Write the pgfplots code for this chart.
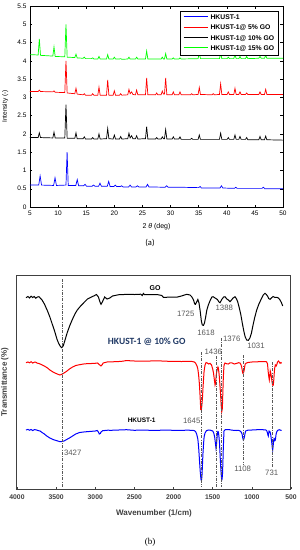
\documentclass[border=0pt]{standalone}
\usepackage{pgfplots}
\pgfplotsset{compat=1.18}
\usepackage{fontspec}
\setmainfont{Liberation Sans}
\newfontfamily\carlito{Carlito}
\newfontfamily\serifb{Liberation Serif}
\definecolor{navy}{HTML}{1F3864}
\definecolor{lblgray}{HTML}{595959}
\definecolor{frgray}{HTML}{404040}
\definecolor{legblue}{rgb}{0,0,1}
\definecolor{legred}{rgb}{1,0,0}
\definecolor{leggreen}{rgb}{0,1,0}
\tikzset{
  vline/.style={lblgray, line width=0.6pt, dash pattern=on 3pt off 1.3pt on 0.8pt off 1.3pt},
  lbl/.style={font=\fontsize{7.8}{9}\selectfont, text=lblgray, inner sep=0pt},
}
\newcommand{\legline}[1]{{\color{#1}\rule[2.1pt]{24pt}{1.1pt}}\hspace{3pt}}
\begin{document}
\begin{tikzpicture}
\useasboundingbox (0pt,-550pt) rectangle (300pt,0pt);
% ---------------- panel (a) ----------------
\begin{axis}[
  at={(30pt,-207pt)}, anchor=south west,
  width=253pt, height=201pt, scale only axis,
  xmin=5, xmax=50, ymin=0, ymax=5.5,
  xtick={5,10,...,50}, ytick={0,0.5,...,5.5},
  tick align=inside, major tick length=2.5pt,
  every tick/.style={black, line width=0.4pt},
  axis line style={line width=0.5pt},
  /pgf/number format/assume math mode=true,
  tick label style={font=\fontsize{6.5}{7}\selectfont},
  xlabel={2 \textit{θ} (deg)},
  ylabel={Intensity (-)},
  xlabel style={font=\fontsize{7}{8}\selectfont, at={(axis description cs:0.5,-0.1)}, anchor=center},
  ylabel style={font=\fontsize{6.5}{7}\selectfont, at={(axis description cs:-0.072,0.5)}, anchor=south},
  legend style={at={(0.98,0.975)}, anchor=north east, font=\fontsize{6.8}{8}\selectfont\bfseries,
     inner sep=1.5pt, row sep=0pt, column sep=0pt},
  legend cell align=left,
  legend image code/.code={},
  every axis plot/.append style={line width=0.7pt},
]
\addplot[blue] coordinates {(5,0.6) (6.55,0.6) (6.8,0.85) (7.05,0.6) (9.2,0.59) (9.45,0.8) (9.7,0.59) (11.4,0.6) (11.6,1.5) (11.8,0.59) (13.15,0.59) (13.4,0.75) (13.65,0.58) (14.55,0.58) (14.8,0.62) (15.05,0.57) (16.05,0.57) (16.3,0.6) (16.55,0.57) (17.2,0.57) (17.45,0.65) (17.7,0.57) (18.75,0.57) (19.0,0.7) (19.25,0.56) (19.9,0.56) (20.15,0.6) (20.4,0.56) (21.05,0.56) (21.3,0.58) (21.55,0.55) (22.55,0.55) (22.8,0.6) (23.05,0.55) (23.85,0.55) (24.1,0.58) (24.35,0.55) (25.65,0.55) (25.9,0.62) (26.15,0.55) (29.05,0.54) (29.3,0.58) (29.55,0.54) (32,0.54) (35,0.53) (35.25,0.56) (35.5,0.52) (38.8,0.52) (39.05,0.58) (39.3,0.52) (41.35,0.51) (41.6,0.54) (41.85,0.51) (46.25,0.51) (46.5,0.54) (46.75,0.5) (50,0.5)};
\addlegendentry{\legline{legblue}HKUST-1}
\addplot[red] coordinates {(5,3.16) (6.45,3.16) (6.66,3.2) (6.87,3.16) (9.06,3.15) (9.27,3.18) (9.48,3.14) (11.19,3.13) (11.4,4.0) (11.61,3.12) (12.97,3.1) (13.18,3.25) (13.39,3.09) (14.45,3.07) (14.66,3.1) (14.87,3.06) (15.94,3.06) (16.15,3.1) (16.36,3.06) (17.06,3.06) (17.27,3.28) (17.48,3.06) (18.61,3.06) (18.82,3.48) (19.03,3.06) (19.79,3.06) (20.0,3.18) (20.21,3.06) (20.92,3.06) (21.13,3.1) (21.34,3.06) (22.39,3.07) (22.6,3.22) (22.81,3.1) (23.08,3.15) (23.3,3.08) (23.76,3.07) (23.97,3.2) (24.18,3.07) (25.54,3.07) (25.75,3.53) (25.96,3.07) (27.32,3.07) (27.53,3.12) (27.74,3.07) (28.32,3.07) (28.53,3.17) (28.74,3.09) (28.92,3.09) (29.13,3.53) (29.34,3.07) (30.28,3.07) (30.49,3.15) (30.7,3.07) (31.47,3.07) (31.68,3.15) (31.89,3.07) (33.55,3.07) (33.76,3.1) (33.97,3.07) (34.9,3.08) (35.11,3.27) (35.32,3.08) (37.39,3.07) (37.6,3.1) (37.81,3.07) (38.7,3.08) (38.91,3.37) (39.12,3.08) (40.06,3.08) (40.27,3.15) (40.48,3.08) (41.25,3.08) (41.46,3.25) (41.67,3.08) (42.14,3.08) (42.35,3.15) (42.56,3.08) (43.33,3.08) (43.54,3.12) (43.75,3.08) (45.7,3.08) (45.91,3.15) (46.12,3.08) (46.71,3.08) (46.92,3.22) (47.13,3.08) (50,3.08)};
\addlegendentry{\legline{legred}HKUST-1@ 5\% GO}
\addplot[black] coordinates {(5,1.9) (6.45,1.9) (6.66,2.03) (6.87,1.9) (9.06,1.89) (9.27,2.05) (9.48,1.89) (11.19,1.89) (11.4,2.8) (11.61,1.88) (12.97,1.88) (13.18,2.03) (13.39,1.87) (14.45,1.87) (14.66,1.92) (14.87,1.86) (15.94,1.86) (16.15,1.9) (16.36,1.86) (17.06,1.86) (17.27,2.0) (17.48,1.86) (18.61,1.87) (18.82,2.15) (19.03,1.87) (19.79,1.86) (20.0,1.97) (20.21,1.86) (20.92,1.86) (21.13,1.93) (21.34,1.86) (22.39,1.87) (22.6,2.02) (22.81,1.89) (23.08,1.95) (23.3,1.87) (23.76,1.87) (23.97,1.95) (24.18,1.86) (25.54,1.87) (25.75,2.2) (25.96,1.86) (27.32,1.86) (27.53,1.9) (27.74,1.86) (28.32,1.86) (28.53,1.92) (28.74,1.87) (28.92,1.87) (29.13,2.12) (29.34,1.86) (30.28,1.86) (30.49,1.92) (30.7,1.86) (31.47,1.86) (31.68,1.92) (31.89,1.85) (33.55,1.85) (33.76,1.88) (33.97,1.85) (34.9,1.85) (35.11,1.97) (35.32,1.85) (38.7,1.85) (38.91,2.02) (39.12,1.85) (40.06,1.85) (40.27,1.9) (40.48,1.85) (41.25,1.85) (41.46,1.97) (41.67,1.85) (42.14,1.85) (42.35,1.93) (42.56,1.85) (43.33,1.85) (43.54,1.9) (43.75,1.84) (45.7,1.84) (45.91,1.93) (46.12,1.84) (46.71,1.84) (46.92,1.94) (47.13,1.84) (50,1.83)};
\addlegendentry{\legline{black}HKUST-1@ 10\% GO}
\addplot[green] coordinates {(5,4.17) (6.45,4.16) (6.66,4.6) (6.87,4.15) (9.06,4.13) (9.27,4.38) (9.48,4.12) (11.19,4.11) (11.4,5.0) (11.61,4.1) (12.97,4.09) (13.18,4.18) (13.39,4.08) (14.45,4.07) (14.66,4.1) (14.87,4.06) (15.94,4.06) (16.15,4.08) (16.36,4.05) (17.06,4.05) (17.27,4.12) (17.48,4.05) (18.61,4.05) (18.82,4.17) (19.03,4.05) (19.79,4.05) (20.0,4.1) (20.21,4.05) (20.92,4.05) (21.13,4.06) (21.34,4.04) (22.39,4.05) (22.6,4.1) (22.81,4.05) (23.76,4.05) (23.97,4.1) (24.18,4.05) (25.54,4.05) (25.75,4.27) (25.96,4.05) (28.32,4.05) (28.53,4.1) (28.74,4.05) (28.92,4.05) (29.13,4.2) (29.34,4.05) (30.28,4.05) (30.49,4.08) (30.7,4.05) (31.47,4.05) (31.68,4.08) (31.89,4.05) (34.9,4.06) (35.11,4.22) (35.32,4.06) (38.7,4.06) (38.91,4.22) (39.12,4.06) (40.06,4.06) (40.27,4.1) (40.48,4.06) (41.25,4.06) (41.46,4.18) (41.67,4.06) (42.14,4.06) (42.35,4.12) (42.56,4.06) (43.33,4.06) (43.54,4.12) (43.75,4.06) (45.7,4.07) (45.91,4.12) (46.12,4.07) (46.71,4.07) (46.92,4.15) (47.13,4.07) (50,4.07)};
\addlegendentry{\legline{leggreen}HKUST-1@ 15\% GO}
\end{axis}
\node[font=\carlito\fontsize{8.5}{10}\selectfont] at (150pt,-243pt) {(a)};
% ---------------- panel (b) ----------------
\begin{axis}[
  at={(17pt,-489pt)}, anchor=south west,
  width=274pt, height=214pt, scale only axis,
  x dir=reverse, xmin=500, xmax=4000, ymin=0, ymax=214,
  xtick={500,1000,...,4000}, ytick=\empty,
  scaled x ticks=false,
  /pgf/number format/1000 sep={},
  /pgf/number format/assume math mode=true,
  xtick pos=bottom, tick align=inside, major tick length=2pt,
  every tick/.style={frgray, line width=0.6pt},
  axis line style={frgray, line width=1pt},
  xticklabel style={font=\fontsize{6.8}{8}\selectfont\bfseries, text=frgray, yshift=-2.5pt},
  xlabel={Wavenumber (1/cm)},
  ylabel={Transmittance (\%)},
  xlabel style={font=\fontsize{8}{9}\selectfont\bfseries, text=frgray, at={(axis description cs:0.5,-0.112)}, anchor=center},
  ylabel style={font=\fontsize{8}{9}\selectfont\bfseries, text=frgray, at={(axis description cs:-0.018,0.5)}, anchor=south},
  every axis plot/.append style={line width=1pt},
]
% GO
\addplot[black] coordinates {(3885,191.3) (3860,192.5) (3840,191) (3820,192.8) (3800,191.5) (3780,192.5) (3760,190.8) (3740,192) (3719,192.3) (3680,189) (3650,185) (3610,178) (3580,172) (3550,165) (3520,158) (3490,150) (3470,146) (3445,142.5) (3429,141.3) (3410,143) (3390,148) (3360,156) (3323,164) (3290,170) (3260,175) (3230,179) (3195,182.3) (3150,186) (3100,190) (3050,192) (3013,193.3) (2985,194.5) (2960,192) (2940,187) (2927,184.7) (2910,187) (2880,192) (2850,190) (2815,191) (2780,193) (2700,194.3) (2600,194.6) (2500,194.5) (2420,194.8) (2400,193.5) (2386,195.5) (2370,194.3) (2300,194.5) (2200,194.3) (2150,193.5) (2131,191.7) (2050,191.8) (1950,192) (1900,193) (1832,194.7) (1790,194) (1768,192.3) (1745,189) (1730,185) (1720,184.7) (1705,187) (1690,189.5) (1675,186) (1660,178) (1645,168) (1633,164) (1618,163.7) (1605,166) (1590,172) (1575,179) (1556,184) (1530,189) (1510,192) (1495,192.3) (1470,191) (1440,189.5) (1420,187) (1407,186.3) (1395,188) (1380,190) (1360,192) (1343,192.3) (1320,190) (1300,189) (1279,187.3) (1260,189) (1240,191) (1215,192.3) (1195,190) (1180,187) (1160,181) (1140,174) (1120,165) (1100,157) (1085,152) (1066,149) (1045,148.7) (1025,151) (1005,156) (990,162) (965,171) (938,179) (910,185) (880,190) (855,194) (832,195.7) (815,194.5) (800,193) (785,190.5) (768,189.7) (750,191) (730,192.5) (705,191.5) (683,191.7) (660,191) (640,189) (620,186) (606,183)};
% HKUST-1 @ 10% GO
\addplot[red] coordinates {(3885,126.3) (3860,127) (3840,126.2) (3820,127.3) (3800,126) (3780,126.8) (3760,126.8) (3740,125.8) (3720,125.5) (3690,124.5) (3650,123) (3610,121) (3580,119) (3540,117) (3500,115.5) (3470,114.5) (3451,114) (3420,115) (3400,116) (3370,117.5) (3330,120) (3290,122) (3250,123.5) (3200,124.3) (3150,125) (3100,125.4) (3050,125.5) (3004,125.7) (2970,126) (2950,124.5) (2927,123) (2910,124.5) (2900,126) (2850,127) (2780,127.2) (2700,127.5) (2650,127.8) (2600,128.5) (2550,128.2) (2500,128) (2400,127.8) (2300,128) (2200,128.2) (2100,127.8) (2000,127.6) (1900,127.5) (1800,127.6) (1760,127.5) (1735,127) (1720,126) (1700,123) (1690,120) (1680,114) (1670,105) (1662,94) (1653,79.7) (1645,79) (1638,84) (1630,92) (1625,100) (1617,110) (1610,118) (1598,124) (1585,126.5) (1570,126) (1550,125) (1534,125.7) (1515,124) (1500,120) (1490,116) (1480,110) (1470,104) (1463,106) (1455,114) (1447,118) (1440,120) (1433,122) (1428,121) (1420,116) (1415,112) (1408,104) (1400,95) (1392,84) (1385,77.3) (1378,80) (1375,85) (1370,98) (1365,110) (1360,118) (1355,124) (1343,126) (1320,125.2) (1300,125) (1280,126.2) (1250,126) (1225,125) (1200,125.5) (1170,126.3) (1151,126) (1140,124.5) (1130,122) (1120,117.5) (1115,115.7) (1108,116) (1100,118) (1092,122) (1085,125) (1070,126) (1050,126.5) (1020,126.8) (1000,127) (950,127.2) (900,127.3) (860,127.4) (820,127.5) (810,127) (800,125) (792,118) (785,113) (777,109) (770,113) (765,118) (758,116) (750,112) (742,107) (735,104) (726,104) (720,109) (715,115) (708,121) (700,124) (690,123) (683,124) (672,127) (660,128) (650,127) (640,125.7) (630,126.5) (620,125.7)};
% HKUST-1
\addplot[blue] coordinates {(3885,59) (3860,59.6) (3840,58.8) (3820,59.5) (3800,58.5) (3775,59.4) (3750,59) (3730,58.4) (3706,58) (3680,56.5) (3650,55) (3620,53) (3580,51) (3540,49.5) (3500,48.5) (3470,47.8) (3451,47.3) (3425,47.5) (3400,48) (3370,49.3) (3330,51) (3290,53) (3250,55) (3200,56.5) (3150,57) (3110,57.3) (3060,57.6) (3000,58) (2975,58.5) (2960,57) (2949,55) (2935,55.5) (2927,57) (2905,58.3) (2880,58.5) (2840,58.8) (2800,58.7) (2700,59) (2600,59.3) (2500,58.7) (2400,59) (2300,58.7) (2200,58.7) (2100,58.9) (2000,58.7) (1900,58.7) (1820,58.8) (1760,58.7) (1735,58.4) (1720,57.5) (1705,55) (1690,50) (1680,42) (1670,30) (1660,18) (1650,9.7) (1644,8.5) (1638,12) (1632,22) (1625,35) (1617,45) (1610,52) (1598,56) (1580,58.3) (1556,59) (1530,58.8) (1500,58) (1487,56) (1475,52) (1466,46) (1458,40.7) (1453,43) (1448,48) (1443,53) (1438,57) (1433,57.5) (1428,57) (1421,53) (1415,48) (1408,38) (1400,25) (1392,15) (1385,9) (1380,10) (1375,15) (1370,26) (1365,40) (1360,50) (1356,58) (1340,59.3) (1300,59.5) (1250,58.8) (1200,58.5) (1170,58.7) (1150,58) (1137,57) (1125,55) (1116,51) (1109,49) (1102,50) (1095,52) (1087,55.5) (1080,58) (1050,58.8) (1000,59) (950,59.2) (900,59.5) (860,59.3) (820,59) (810,58.3) (800,56) (795,54) (790,53) (785,55.5) (780,58) (770,57.5) (760,55) (752,50) (745,46) (740,42) (734,39) (728,43) (722,48) (716,50.5) (710,50) (705,48.5) (700,49) (695,52) (690,55) (683,57) (672,58.5) (660,59) (650,59.3) (640,59) (630,58.7) (620,58.5)};
% dash-dot guide lines
\addplot[vline] coordinates {(3416,210) (3416,2)};
\addplot[vline] coordinates {(1650,137) (1650,2)};
\addplot[vline] coordinates {(1449,133) (1449,2)};
\addplot[vline] coordinates {(1385,151) (1385,2)};
\addplot[vline] coordinates {(1109,134) (1109,25)};
\addplot[vline] coordinates {(734,127) (734,22)};
% labels
\node[font=\fontsize{7}{8}\selectfont\bfseries, inner sep=0pt] at (axis cs:2237,201) {GO};
\node[lbl] at (axis cs:1845,175) {1725};
\node[lbl] at (axis cs:1586,156.3) {1618};
\node[lbl] at (axis cs:1352,180.7) {1388};
\node[lbl] at (axis cs:947,143.3) {1031};
\node[font=\carlito\bfseries\fontsize{9.5}{11}\selectfont, text=navy, inner sep=0pt] at (axis cs:2343,147.3) {HKUST-1 @ 10\% GO};
\node[lbl] at (axis cs:1492,137.3) {1436};
\node[lbl] at (axis cs:1257,149.7) {1376};
\node[lbl] at (axis cs:1768,68.3) {1645};
\node[font=\fontsize{6.5}{8}\selectfont\bfseries, inner sep=0pt] at (axis cs:2407,68.3) {HKUST-1};
\node[lbl] at (axis cs:3288,36.3) {3427};
\node[lbl] at (axis cs:1117,19.7) {1108};
\node[lbl] at (axis cs:746,16.3) {731};
\end{axis}
\node[font=\serifb\fontsize{9}{10}\selectfont] at (150pt,-542pt) {(b)};
\end{tikzpicture}
\end{document}
